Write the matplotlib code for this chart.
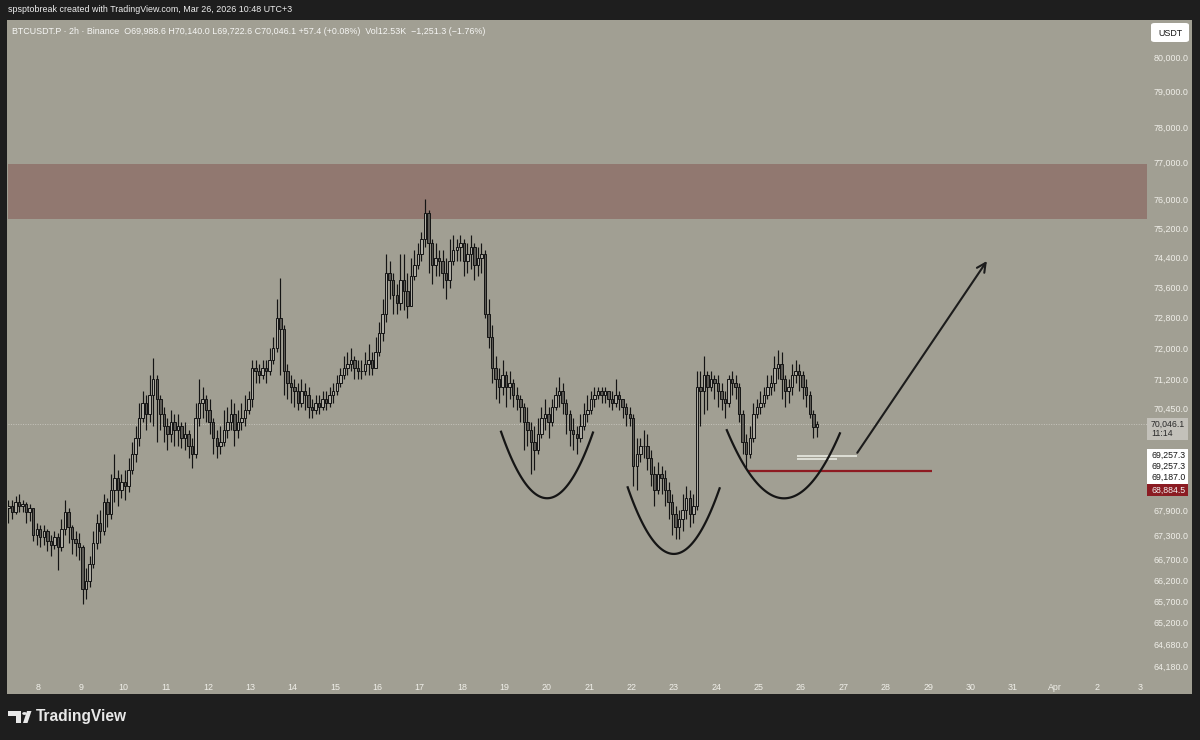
import matplotlib.pyplot as plt
from matplotlib.patches import Rectangle, FancyBboxPatch, Polygon, Circle
from matplotlib.ticker import NullLocator, NullFormatter
import numpy as np

# BTCUSDT.P 2h candles, first bar opens Mar 7 07:00 (UTC+3)
first_open = 67950
closes = [
    68000, 67850, 68100, 68000, 68050, 67850, 67950, 67300, 67450,                    # Mar 7
    67250, 67400, 67150, 67050, 67250, 67000, 67450, 67850, 67500, 67200, 67100, 67000,  # Mar 8
    66000, 66200, 66600, 67100, 67600, 67400, 68100, 67800, 68400, 68700, 68400, 68600,  # Mar 9
    68500, 68900, 69300, 69700, 70200, 70600, 70300, 70800, 71200, 70700, 70300, 70000,  # Mar 10
    69800, 70100, 69900, 70000, 69700, 69800, 69500, 69300, 70200, 70600, 70700, 70400,  # Mar 11
    70100, 69700, 69500, 69600, 69900, 70100, 70300, 69900, 70100, 70200, 70400, 70700,  # Mar 12
    71500, 71400, 71300, 71500, 71400, 71700, 72000, 72800, 72500, 71400, 71100, 71000,  # Mar 13
    70900, 70600, 70900, 70800, 70500, 70400, 70600, 70500, 70700, 70600, 70800, 70900,  # Mar 14
    71100, 71300, 71500, 71600, 71700, 71500, 71400, 71400, 71600, 71700, 71500, 71900,  # Mar 15
    72400, 72900, 74000, 73800, 73400, 73200, 73800, 73500, 73100, 73900, 74200, 74500,  # Mar 16
    74900, 75600, 74800, 74200, 74400, 74300, 74000, 73800, 74300, 74600, 74700, 74800,  # Mar 17
    74300, 74500, 74700, 74200, 74400, 74500, 72900, 72300, 71500, 71200, 71000, 71300,  # Mar 18
    71000, 71100, 70800, 70700, 70500, 70100, 69900, 69600, 69400, 69800, 70200, 70300,  # Mar 19
    70100, 70500, 70800, 70900, 70600, 70300, 69900, 69800, 69700, 70000, 70300, 70400,  # Mar 20
    70700, 70800, 70900, 70800, 70900, 70700, 70600, 70800, 70700, 70500, 70300, 70200,  # Mar 21
    69000, 69300, 69500, 69500, 69200, 68800, 68400, 68800, 68700, 68400, 68100, 67800,  # Mar 22
    67500, 67700, 67900, 68200, 67800, 68000, 71000, 70900, 71300, 71000, 71200, 71100,  # Mar 23
    70900, 70700, 70600, 71200, 71100, 71000, 70300, 69600, 69300, 69700, 70300, 70500,  # Mar 24
    70600, 70800, 71000, 71100, 71500, 71600, 71200, 70900, 71000, 71300, 71400, 71300,  # Mar 25
    71000, 70800, 70300, 69988.6, 70046.1,                                               # Mar 26
]
highs = [
    68150, 68150, 68250, 68300, 68150, 68100, 68050, 67950, 67600,
    67550, 67550, 67450, 67300, 67400, 67350, 67700, 68150, 67950, 67550, 67400, 67350,
    67050, 66500, 66800, 67400, 67800, 67900, 68300, 68200, 68800, 69300, 68900, 68800,
    68900, 69200, 69600, 70000, 70600, 70900, 70800, 71300, 71750, 71300, 70800, 70500,
    70200, 70400, 70300, 70300, 70100, 70100, 69900, 69700, 70600, 71200, 71000, 70800,
    70700, 70200, 69900, 70000, 70400, 70500, 70700, 70600, 70400, 70600, 70800, 70900,
    71700, 71700, 71600, 71700, 71700, 72000, 72300, 73300, 73850, 72600, 71600, 71300,
    71200, 71100, 71200, 71100, 71000, 70700, 70800, 70800, 70900, 70900, 71000, 71100,
    71300, 71500, 71800, 71900, 72000, 71800, 71700, 71700, 71900, 72100, 71900, 72300,
    72700, 73300, 74500, 74300, 74000, 73700, 74500, 74500, 74000, 74400, 74600, 74800,
    75100, 76000, 75700, 74900, 74800, 74600, 74600, 74400, 74900, 75000, 74900, 75000,
    74900, 74800, 75000, 74800, 74700, 74800, 74600, 73300, 72600, 71800, 71500, 71700,
    71400, 71400, 71200, 71000, 70800, 70600, 70500, 70100, 70000, 70200, 70500, 70700,
    70500, 70700, 71000, 71250, 71100, 70700, 70400, 70200, 70000, 70300, 70600, 70800,
    70900, 71000, 71000, 71000, 71000, 70900, 70900, 71200, 70900, 70700, 70600, 70500,
    70300, 69700, 69700, 69900, 69800, 69400, 69000, 69100, 69000, 68900, 68600, 68300,
    68000, 67900, 68300, 68500, 68400, 68300, 71400, 71400, 71800, 71400, 71400, 71300,
    71300, 71100, 70900, 71300, 71400, 71300, 71100, 70400, 69800, 70000, 70600, 70700,
    70900, 71000, 71300, 71300, 71800, 71950, 71900, 71300, 71200, 71600, 71700, 71600,
    71400, 71200, 70900, 70400, 70140.0,
]
lows = [
    67600, 67700, 67800, 67850, 67850, 67600, 67650, 67150, 67050,
    67000, 67050, 66900, 66800, 66950, 66450, 66900, 67300, 67100, 66850, 66800, 66700,
    65650, 65750, 66050, 66500, 66950, 67100, 67300, 67500, 67700, 68100, 68000, 68200,
    68150, 68350, 68800, 69100, 69500, 70100, 69900, 70100, 70000, 69600, 69900, 69600,
    69400, 69600, 69500, 69500, 69450, 69400, 69200, 68950, 69200, 70000, 70200, 70100,
    69800, 69300, 69200, 69300, 69500, 69700, 69900, 69500, 69700, 69900, 70000, 70300,
    70500, 71100, 71100, 71200, 71100, 71300, 71600, 71900, 71300, 70800, 70700, 70600,
    70500, 70400, 70500, 70400, 70200, 70200, 70300, 70300, 70400, 70400, 70500, 70600,
    70800, 71000, 71200, 71300, 71400, 71200, 71200, 71200, 71300, 71300, 71300, 71500,
    71800, 72200, 72700, 73300, 72900, 72900, 73000, 73000, 72800, 73300, 73800, 74100,
    74300, 74700, 74000, 73700, 73900, 73900, 73600, 73300, 73600, 74200, 74300, 74300,
    73900, 74000, 74100, 73800, 73900, 74000, 72800, 72000, 71100, 70700, 70600, 70800,
    70500, 70700, 70500, 70400, 70100, 69400, 69500, 68800, 68900, 69300, 69700, 69900,
    69700, 70000, 70400, 70500, 70300, 69800, 69500, 69400, 69300, 69600, 69900, 70100,
    70300, 70500, 70700, 70600, 70600, 70500, 70400, 70500, 70400, 70200, 70000, 70000,
    68500, 68400, 69100, 69200, 68900, 68500, 68000, 68300, 68300, 68000, 67700, 67300,
    67200, 67200, 67400, 67700, 67500, 67600, 67900, 70000, 70300, 70400, 70900, 70700,
    70500, 70400, 70200, 70500, 70800, 70700, 70100, 69300, 68950, 69200, 69600, 70200,
    70300, 70500, 70700, 70800, 70900, 71200, 70700, 70500, 70600, 70800, 71100, 70900,
    70700, 70500, 70200, 69700, 69722.6,
]

# drawings (x = day of March, local time; y = price)
zone = (75450, 76950)
red_line = (24.75, 29.10, 68884.5)
white_lines = [(25.90, 27.32, 69257.3), (25.90, 26.85, 69187.0)]
last_price = 70046.1
arcs = [
    [(18.92, 69860), (20.00, 68200), (21.09, 69840)],
    [(21.91, 68470), (23.01, 66840), (24.08, 68445)],
    [(24.25, 69900), (25.55, 68200), (26.92, 69820)],
]
arrow_start = (27.33, 69330)
arrow_end = (30.39, 74310)

price_ticks = [80000, 79000, 78000, 77000, 76000, 75200, 74400, 73600, 72800, 72000,
               71200, 70450, 67900, 67300, 66700, 66200, 65700, 65200, 64680, 64180]
day_ticks = list(range(8, 35))
day_labels = [str(d) for d in range(8, 32)] + ['Apr', '2', '3']

W, H = 1200, 740
BG = '#1e1e1e'
PANEL = '#a19f93'
FONT = ['Liberation Sans', 'DejaVu Sans']

fig = plt.figure(figsize=(12, 7.4), dpi=100, facecolor=BG)
fig.patches.append(Rectangle((7 / W, 1 - 694 / H), (1192 - 7) / W, (694 - 20) / H,
                             transform=fig.transFigure, facecolor=PANEL, edgecolor='none', zorder=-1))
ax = fig.add_axes([8 / W, 1 - 676 / H, (1147 - 8) / W, (676 - 20) / H])
ax.set_facecolor(PANEL)
for s in ax.spines.values():
    s.set_visible(False)

ax.set_yscale('log')
ax.set_ylim(63953, 81078)
ax.set_xlim(7.28, 34.17)

# candles
c = np.array(closes, dtype=float)
o = np.concatenate([[first_open], c[:-1]])
hi = np.maximum(np.array(highs, dtype=float), np.maximum(o, c))
lo = np.minimum(np.array(lows, dtype=float), np.minimum(o, c))
x = 7 + 7 / 24 + np.arange(len(c)) / 12
up = c >= o
ax.vlines(x, lo, hi, color='#141414', lw=0.85, zorder=3)
body_h = np.maximum(np.abs(c - o), 12)
ax.bar(x, body_h, bottom=np.minimum(o, c), width=0.058,
       color=np.where(up, '#aeaca3', '#5c5a55'), edgecolor='#141414', linewidth=0.7, zorder=4)

# zone, levels, last price
ax.axhspan(zone[0], zone[1], color='#917870', lw=0, zorder=1)
ax.axhline(last_price, color='#c6c4bc', lw=0.7, ls=(0, (1, 1.5)), zorder=2)
ax.hlines(red_line[2], red_line[0], red_line[1], color='#8e1b22', lw=1.6, zorder=5)
for x0, x1, lvl in white_lines:
    ax.hlines(lvl, x0, x1, color='#eef0e8', lw=1.1, zorder=5)

# arcs: quadratic through three anchors in (day, log price)
for pts in arcs:
    px = np.array([p[0] for p in pts])
    py = np.log([p[1] for p in pts])
    coef = np.polyfit(px, py, 2)
    xs = np.linspace(px[0], px[-1], 80)
    ax.plot(xs, np.exp(np.polyval(coef, xs)), color='#151515', lw=1.6, zorder=6)

ax.annotate('', xy=arrow_end, xytext=arrow_start,
            arrowprops=dict(arrowstyle='->', color='#1c1c1c', lw=1.5, mutation_scale=16,
                            shrinkA=0, shrinkB=0), zorder=6)

# axes ticks
ax.yaxis.tick_right()
ax.set_yticks(price_ticks)
ax.set_yticklabels([f'{v:,.1f}' for v in price_ticks])
ax.yaxis.set_minor_locator(NullLocator())
ax.yaxis.set_minor_formatter(NullFormatter())
ax.set_xticks(day_ticks)
ax.set_xticklabels(day_labels)
ax.tick_params(axis='y', length=0, pad=5, labelsize=6.4, labelcolor='#f0efe9')
ax.tick_params(axis='x', length=0, pad=5, labelsize=6.4, labelcolor='#f0efe9')
for lab in ax.get_xticklabels() + ax.get_yticklabels():
    lab.set_family(FONT)


def ftext(px, py, s, **kw):
    kw.setdefault('family', FONT)
    return fig.text(px / W, 1 - py / H, s, **kw)


def fbox(x0, y0, x1, y1, color):
    fig.patches.append(Rectangle((x0 / W, 1 - y1 / H), (x1 - x0) / W, (y1 - y0) / H,
                                 transform=fig.transFigure, facecolor=color, edgecolor='none', zorder=5))


# header and legend
ftext(8, 10, 'spsptobreak created with TradingView.com, Mar 26, 2026 10:48 UTC+3',
      color='#f0f0f0', fontsize=6.4, va='center')
ftext(12, 31, 'BTCUSDT.P · 2h · Binance  O69,988.6 H70,140.0 L69,722.6 C70,046.1 '
      '+57.4 (+0.08%)  Vol12.53K  −1,251.3 (−1.76%)',
      color='#f6f6f4', fontsize=6.4, va='center')

# currency box
fig.patches.append(FancyBboxPatch((1151 / W, 1 - 42 / H), 38 / W, 19 / H,
                                  boxstyle='round,pad=0,rounding_size=0.003',
                                  transform=fig.transFigure, facecolor='white', edgecolor='none', zorder=5))
ftext(1170, 33, 'USDT', color='#131313', fontsize=6.4, ha='center', va='center', zorder=6)

# price scale labels
fbox(1147, 418, 1188, 440, '#c3c1ba')
ftext(1151, 424, f'{last_price:,.1f}', color='#2a2a2a', fontsize=6.3, va='center', zorder=6)
ftext(1151, 434, '11:14', color='#2a2a2a', fontsize=6.3, va='center', zorder=6)
fbox(1147, 449, 1188, 484, '#ffffff')
for yy, s in zip([455.5, 466.5, 477.5], ['69,257.3', '69,257.3', '69,187.0']):
    ftext(1151, yy, s, color='#151515', fontsize=6.3, va='center', zorder=6)
fbox(1147, 484, 1188, 496, '#8b1c23')
ftext(1151, 490, f'{red_line[2]:,.1f}', color='#f2f2f2', fontsize=6.3, va='center', zorder=6)

# TradingView mark
logo_col = '#e8e8e8'
fbox(8, 711, 21, 716, logo_col)
fbox(16, 711, 21, 723, logo_col)
fig.patches.append(Circle((24.5 / W, 1 - 713.5 / H), 2.3 / W, transform=fig.transFigure,
                          facecolor=logo_col, edgecolor='none', zorder=5))
fig.patches.append(Polygon([(23 / W, 1 - 723 / H), (27.5 / W, 1 - 723 / H),
                            (31.5 / W, 1 - 711 / H), (27 / W, 1 - 711 / H)],
                           closed=True, transform=fig.transFigure, facecolor=logo_col,
                           edgecolor='none', zorder=5))
ftext(36, 717, 'TradingView', color=logo_col, fontsize=11.2, fontweight='bold', va='center')

fig.savefig('out.png', dpi=100, facecolor=BG)
